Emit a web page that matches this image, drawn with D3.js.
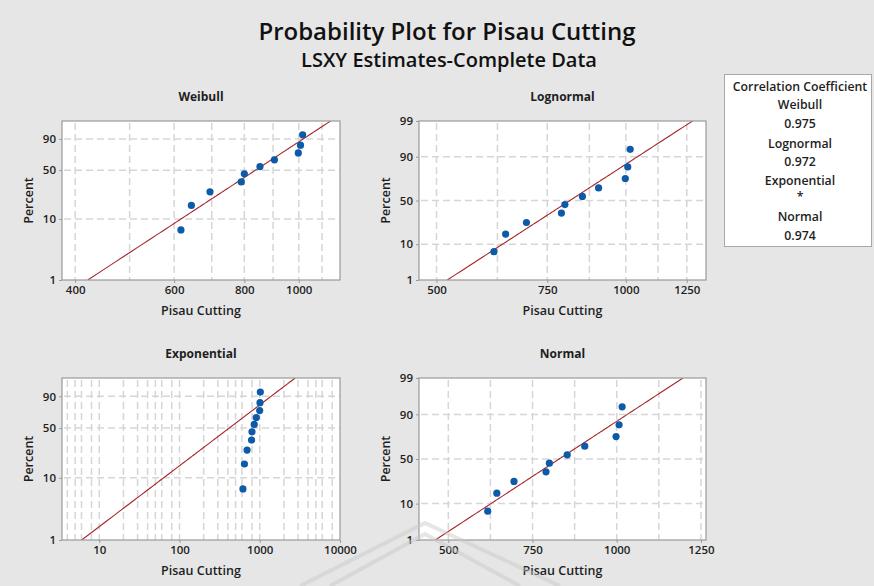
<!DOCTYPE html>
<html><head><meta charset="utf-8">
<script src="https://cdn.jsdelivr.net/npm/d3@7/dist/d3.min.js"></script>
<style>
html,body{margin:0;padding:0;background:#e6e6e6;}
svg{display:block;font-family:"Open Sans",sans-serif;}
</style></head>
<body><svg id="c" width="874" height="586"></svg>
<script>
// ---------- data ----------
const cuttingValues = [617, 644, 695, 790, 800, 853, 905, 998, 1007, 1016];
const percentValues = [6.7, 16.3, 26.0, 35.6, 45.2, 54.8, 64.4, 74.0, 83.7, 93.3];
const percentTicksWE = [1, 10, 50, 90];
const percentTicksLN = [1, 10, 50, 90, 99];
const percentGrid = [10, 50, 90];
const weibullXTicks = [400, 600, 800, 1000];
const weibullXGrid = [400, 500, 600, 700, 800, 900, 1000, 1100];
const lognormalXTicks = [500, 750, 1000, 1250];
const lognormalXGrid = [500, 625, 750, 875, 1000, 1125, 1250];
const exponentialXTicks = [10, 100, 1000, 10000];
const exponentialXGrid = [4,5,6,8,10,20,30,40,50,60,80,100,200,300,400,500,600,800,1000,2000,3000,4000,5000,6000,8000];
const normalXTicks = [500, 750, 1000, 1250];
const normalXGrid = [500, 625, 750, 875, 1000, 1125, 1250];
// fitted (LSXY) parameters
const weibullShape = 6.16, weibullScale = 889;
const lognormalLoc = 6.703, lognormalScale = 0.193;
const exponentialMean = 600;
const normalMean = 829, normalSd = 158;
const legendLines = ["Correlation Coefficient","Weibull","0.975","Lognormal","0.972","Exponential","*","Normal","0.974"];

// ---------- helpers ----------
function probit(p){
  const a=[-3.969683028665376e+01,2.209460984245205e+02,-2.759285104469687e+02,1.383577518672690e+02,-3.066479806614716e+01,2.506628277459239e+00];
  const b=[-5.447609879822406e+01,1.615858368580409e+02,-1.556989798598866e+02,6.680131188771972e+01,-1.328068155288572e+01];
  const c=[-7.784894002430293e-03,-3.223964580411365e-01,-2.400758277161838e+00,-2.549671875485610e+00,4.374664141464968e+00,2.938163982698783e+00];
  const d=[7.784695709041462e-03,3.224671290700398e-01,2.445134137142996e+00,3.754408661907416e+00];
  const pl=0.02425;
  let q,r;
  if(p<pl){q=Math.sqrt(-2*Math.log(p));return (((((c[0]*q+c[1])*q+c[2])*q+c[3])*q+c[4])*q+c[5])/((((d[0]*q+d[1])*q+d[2])*q+d[3])*q+1);}
  if(p>1-pl){q=Math.sqrt(-2*Math.log(1-p));return -(((((c[0]*q+c[1])*q+c[2])*q+c[3])*q+c[4])*q+c[5])/((((d[0]*q+d[1])*q+d[2])*q+d[3])*q+1);}
  q=p-0.5;r=q*q;
  return (((((a[0]*r+a[1])*r+a[2])*r+a[3])*r+a[4])*r+a[5])*q/(((((b[0]*r+b[1])*r+b[2])*r+b[3])*r+b[4])*r+1);
}
const sev = p => Math.log(-Math.log(1-p));

const svg = d3.select("#c");
const INK = "#1e1e1e";

// title
svg.append("text").attr("x",447).attr("y",40).attr("text-anchor","middle")
  .attr("font-size",24).attr("font-weight",600).attr("fill","#111").text("Probability Plot for Pisau Cutting");
svg.append("text").attr("x",449).attr("y",67).attr("text-anchor","middle")
  .attr("font-size",20).attr("font-weight",600).attr("fill","#111").text("LSXY Estimates-Complete Data");

const panels = [
  {name:"Weibull", x0:62, x1:340, y0:121, y1:280, xType:"log", xDomain:[379,1184], xTicks:weibullXTicks, xGrid:weibullXGrid,
   yT:sev, yTicks:percentTicksWE, quant:p=>weibullScale*Math.pow(-Math.log(1-p),1/weibullShape), fmt:d3.format("d")},
  {name:"Lognormal", x0:419, x1:706, y0:121, y1:280, xType:"log", xDomain:[469,1341], xTicks:lognormalXTicks, xGrid:lognormalXGrid,
   yT:probit, yTicks:percentTicksLN, quant:p=>Math.exp(lognormalLoc+lognormalScale*probit(p)), fmt:d3.format("d")},
  {name:"Exponential", x0:62, x1:340, y0:378, y1:540, xType:"log", xDomain:[3.43,10000], xTicks:exponentialXTicks, xGrid:exponentialXGrid,
   yT:sev, yTicks:percentTicksWE, quant:p=>exponentialMean*(-Math.log(1-p)), fmt:d3.format("d")},
  {name:"Normal", x0:419, x1:706, y0:378, y1:540, xType:"lin", xDomain:[413,1265], xTicks:normalXTicks, xGrid:normalXGrid,
   yT:probit, yTicks:percentTicksLN, quant:p=>normalMean+normalSd*probit(p), fmt:d3.format("d")}
];

panels.forEach((P,i)=>{
  const g = svg.append("g");
  const x = (P.xType==="log"? d3.scaleLog() : d3.scaleLinear()).domain(P.xDomain).range([P.x0,P.x1]);
  const y = d3.scaleLinear().domain([P.yT(0.01),P.yT(0.99)]).range([P.y1,P.y0]);
  const yp = v => y(P.yT(v/100));
  const cx = (P.x0+P.x1)/2, cy=(P.y0+P.y1)/2;

  g.append("rect").attr("x",P.x0).attr("y",P.y0).attr("width",P.x1-P.x0).attr("height",P.y1-P.y0)
    .attr("fill","#fff");
  const clipId="clip"+i;
  g.append("clipPath").attr("id",clipId).append("rect").attr("x",P.x0).attr("y",P.y0).attr("width",P.x1-P.x0).attr("height",P.y1-P.y0);

  // grid
  const grid = g.append("g").attr("stroke","#d6d6d6").attr("stroke-width",1.5).attr("stroke-dasharray","7,4").attr("fill","none");
  P.xGrid.filter(v=>x(v)>P.x0+2 && x(v)<P.x1-2).forEach(v=>{
    grid.append("line").attr("x1",x(v)).attr("x2",x(v)).attr("y1",P.y0+2).attr("y2",P.y1);
  });
  percentGrid.forEach(v=>{
    grid.append("line").attr("x1",P.x0+2).attr("x2",P.x1).attr("y1",yp(v)).attr("y2",yp(v));
  });

  // fit line
  const ps = d3.range(0.01,0.99001,0.005);
  g.append("path").attr("clip-path",`url(#${clipId})`)
    .attr("d", d3.line().x(p=>x(P.quant(p))).y(p=>y(P.yT(p)))(ps))
    .attr("fill","none").attr("stroke","#a3262a").attr("stroke-width",1.1);

  // points
  g.append("g").selectAll("circle").data(cuttingValues).join("circle")
    .attr("cx",d=>x(d)).attr("cy",(d,k)=>yp(percentValues[k])).attr("r",3.6).attr("fill","#0c5aa8");

  // border
  g.append("rect").attr("x",P.x0).attr("y",P.y0).attr("width",P.x1-P.x0).attr("height",P.y1-P.y0)
    .attr("fill","none").attr("stroke","#9a9a9a").attr("stroke-width",1.2);

  // axes
  const xa = g.append("g").attr("transform",`translate(0,${P.y1})`)
    .call(d3.axisBottom(x).tickValues(P.xTicks).tickFormat(P.fmt).tickSize(3).tickPadding(3));
  const ya = g.append("g").attr("transform",`translate(${P.x0},0)`)
    .call(d3.axisLeft(d3.scaleLinear().domain(y.domain()).range(y.range()))
      .tickValues(P.yTicks.map(v=>P.yT(v/100))).tickFormat((v,k)=>P.yTicks[k]).tickSize(3).tickPadding(3));
  [xa,ya].forEach(a=>{
    a.select(".domain").remove();
    a.selectAll("line").attr("stroke","#9a9a9a");
    a.selectAll("text").attr("font-size",11.5).attr("font-weight",600).attr("fill",INK).attr("font-family","Open Sans");
  });

  // titles
  svg.append("text").attr("x",cx).attr("y",P.y0-20).attr("text-anchor","middle").attr("font-size",12).attr("font-weight",700)
    .attr("fill",INK).text(P.name);
  svg.append("text").attr("x",cx).attr("y",P.y1+35).attr("text-anchor","middle").attr("font-size",12.5).attr("font-weight",600)
    .attr("fill",INK).text("Pisau Cutting");
  svg.append("text").attr("transform",`translate(${P.x0-29},${cy}) rotate(-90)`).attr("text-anchor","middle")
    .attr("font-size",12.5).attr("font-weight",600).attr("fill",INK).text("Percent");
});

// legend
svg.append("rect").attr("x",724.5).attr("y",74.5).attr("width",147).attr("height",172)
  .attr("fill","#fff").attr("stroke","#a8a8a8");
const legY = [91, 109, 128, 148, 166, 185, 201, 221, 240];
legendLines.forEach((t,k)=>{
  svg.append("text").attr("x",800).attr("y",legY[k]).attr("text-anchor","middle")
    .attr("font-size",12.3).attr("font-weight",600).attr("fill",INK).text(t);
});

// faint watermark chevron
const wm = svg.append("g").attr("fill","none").attr("stroke","#c8c8c8").attr("stroke-opacity",0.45).attr("stroke-width",4);
wm.append("path").attr("d","M300,586 L425,523 L560,586");
wm.append("path").attr("d","M330,586 L425,534 L520,586");
</script></body></html>
